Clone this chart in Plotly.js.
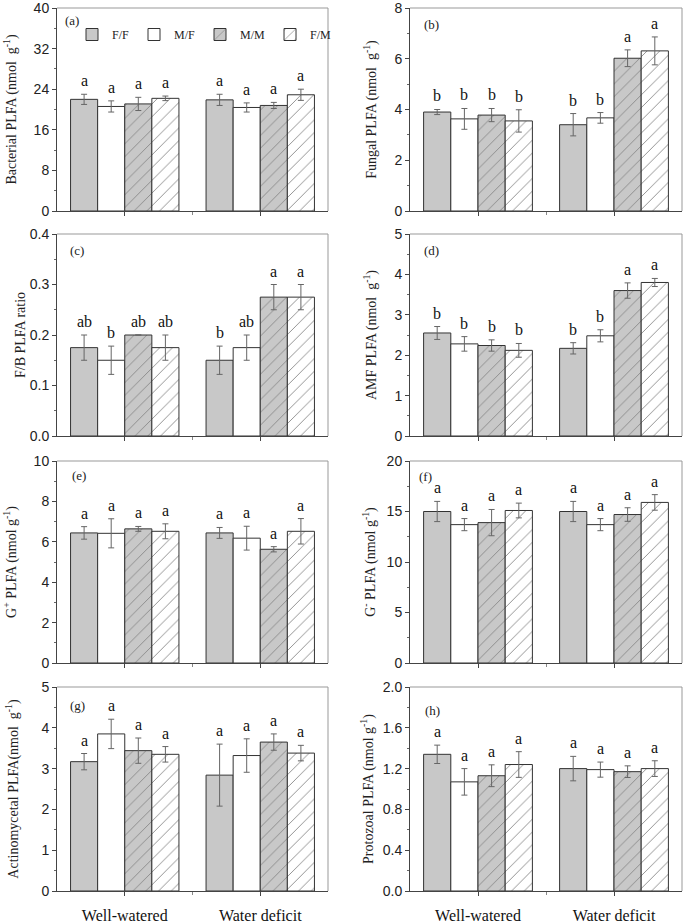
<!DOCTYPE html>
<html><head><meta charset="utf-8">
<script src="https://cdn.plot.ly/plotly-3.0.1.min.js"></script>
<style>html,body{margin:0;padding:0;background:#fff}#chart{width:685px;height:923px}</style>
</head><body><div id="chart"></div>
<script>
// ---------- data ----------
const groups = ['Well-watered', 'Water deficit'];
const treatments = ['F/F', 'M/F', 'M/M', 'F/M'];
// each inner array: [Well-watered, Water deficit] for treatments F/F, M/F, M/M, F/M
const bacterialMean = [[22.0, 21.9], [20.6, 20.4], [21.1, 20.8], [22.2, 22.9]];
const bacterialErr  = [[1.0, 1.1], [1.1, 0.9], [1.3, 0.6], [0.45, 1.1]];
const bacterialLet  = [['a', 'a'], ['a', 'a'], ['a', 'a'], ['a', 'a']];

const fungalMean = [[3.90, 3.40], [3.63, 3.67], [3.78, 6.02], [3.55, 6.31]];
const fungalErr  = [[0.10, 0.44], [0.41, 0.21], [0.26, 0.33], [0.44, 0.55]];
const fungalLet  = [['b', 'b'], ['b', 'b'], ['b', 'a'], ['b', 'a']];

const fbMean = [[0.175, 0.150], [0.150, 0.175], [0.200, 0.275], [0.175, 0.275]];
const fbErr  = [[0.025, 0.028], [0.028, 0.025], [0.0, 0.025], [0.025, 0.025]];
const fbLet  = [['ab', 'b'], ['b', 'ab'], ['ab', 'a'], ['ab', 'a']];

const amfMean = [[2.55, 2.17], [2.28, 2.48], [2.24, 3.60], [2.12, 3.80]];
const amfErr  = [[0.16, 0.14], [0.18, 0.15], [0.14, 0.19], [0.17, 0.10]];
const amfLet  = [['b', 'b'], ['b', 'b'], ['b', 'a'], ['b', 'a']];

const gposMean = [[6.44, 6.44], [6.42, 6.18], [6.64, 5.63], [6.52, 6.52]];
const gposErr  = [[0.31, 0.27], [0.72, 0.59], [0.12, 0.13], [0.37, 0.63]];
const gposLet  = [['a', 'a'], ['a', 'a'], ['a', 'a'], ['a', 'a']];

const gnegMean = [[15.0, 15.0], [13.7, 13.7], [13.9, 14.7], [15.1, 15.9]];
const gnegErr  = [[1.0, 1.0], [0.6, 0.6], [1.3, 0.67], [0.73, 0.77]];
const gnegLet  = [['a', 'a'], ['a', 'a'], ['a', 'a'], ['a', 'a']];

const actinoMean = [[3.17, 2.84], [3.85, 3.32], [3.44, 3.65], [3.35, 3.38]];
const actinoErr  = [[0.20, 0.76], [0.36, 0.41], [0.31, 0.20], [0.19, 0.19]];
const actinoLet  = [['a', 'a'], ['a', 'a'], ['a', 'a'], ['a', 'a']];

const protoMean = [[1.34, 1.20], [1.07, 1.19], [1.13, 1.17], [1.24, 1.20]];
const protoErr  = [[0.09, 0.12], [0.13, 0.074], [0.107, 0.057], [0.126, 0.077]];
const protoLet  = [['a', 'a'], ['a', 'a'], ['a', 'a'], ['a', 'a']];

const panelLabels = ['(a)', '(b)', '(c)', '(d)', '(e)', '(f)', '(g)', '(h)'];
const yTitles = [
  'Bacterial PLFA (nmol  g<sup>-1</sup>)',
  'Fungal PLFA (nmol  g<sup>-1</sup>)',
  'F/B PLFA ratio',
  'AMF PLFA (nmol  g<sup>-1</sup>)',
  'G<sup>+</sup> PLFA (nmol g<sup>-1</sup>)',
  'G<sup>-</sup> PLFA (nmol g<sup>-1</sup>)',
  'Actinomycetal PLFA(nmol  g<sup>-1</sup>)',
  'Protozoal PLFA (nmol g<sup>-1</sup>)'
];
const yMax = [40, 8, 0.4, 5, 10, 20, 5, 2.0];
const yStep = [8, 2, 0.1, 1, 2, 5, 1, 0.4];

// ---------- styling / layout ----------
const means = [bacterialMean, fungalMean, fbMean, amfMean, gposMean, gnegMean, actinoMean, protoMean];
const errs = [bacterialErr, fungalErr, fbErr, amfErr, gposErr, gnegErr, actinoErr, protoErr];
const lets = [bacterialLet, fungalLet, fbLet, amfLet, gposLet, gnegLet, actinoLet, protoLet];
const tickFmt = ['', '', '.1f', '', '', '', '', '.1f'];
const standoff = [13, 14, 0, 14, 13, 7, 19, 5];
const titleSize = [14, 14, 14, 14, 14, 14, 14, 14];

const fillColors = ['#c8c8c8', '#ffffff', '#c8c8c8', '#ffffff'];
const patShapes = ['', '', '/', '/'];

const W = 685, H = 923;
const colPx = [[57, 328], [410, 682]];
const rowPx = [[8, 211], [234, 436], [461, 663], [687, 891]];
const labelPos = [[6, 13], [12, 17], [11, 16], [12, 16], [13, 14], [7, 15], [11, 18], [13, 23]];

const serif = 'Liberation Serif, Times New Roman, serif';
const sans = 'Liberation Sans, Arial, sans-serif';
const bargap = 0.2;
const barW = (1 - bargap) / treatments.length;

const traces = [];
const layout = {
  width: W, height: H,
  margin: {l: 0, r: 0, t: 0, b: 0},
  paper_bgcolor: '#fff', plot_bgcolor: '#fff',
  barmode: 'group', bargap: bargap, bargroupgap: 0,
  showlegend: true,
  legend: {
    orientation: 'h', x: 72 / W, y: 1 - 20 / H, xanchor: 'left', yanchor: 'top',
    font: {family: serif, size: 12, color: '#222'},
    bgcolor: 'rgba(0,0,0,0)', itemwidth: 30,
    tracegroupgap: 0
  },
  annotations: [], shapes: []
};

for (let p = 0; p < 8; p++) {
  const n = p + 1;
  const xa = n === 1 ? 'xaxis' : 'xaxis' + n;
  const ya = n === 1 ? 'yaxis' : 'yaxis' + n;
  const xr = n === 1 ? 'x' : 'x' + n;
  const yr = n === 1 ? 'y' : 'y' + n;
  const col = p % 2, row = Math.floor(p / 2);
  const xd = [colPx[col][0] / W, colPx[col][1] / W];
  const yd = [1 - rowPx[row][1] / H, 1 - rowPx[row][0] / H];
  const bottom = row === 3;

  layout[xa] = {
    domain: xd, anchor: yr, range: [-0.5, 1.5], fixedrange: true,
    tickmode: 'array', tickvals: [0, 1], ticktext: groups,
    showticklabels: bottom, ticks: 'outside', ticklen: 4, tickcolor: '#444',
    minor: {tickmode: 'array', tickvals: [0.5], ticks: 'outside', ticklen: 3, tickcolor: '#888'},
    ticklabelstandoff: 6, ticklabeloverflow: 'allow',
    tickfont: {family: serif, size: 16, color: '#111'},
    showline: true, linecolor: '#444', linewidth: 1, showgrid: false, zeroline: false
  };
  layout[ya] = {
    domain: yd, anchor: xr, range: [0, yMax[p]], fixedrange: true,
    dtick: yStep[p], tick0: 0, tickformat: tickFmt[p],
    ticks: 'outside', ticklen: 4, tickcolor: '#444',
    minor: {dtick: yStep[p] / 2, ticks: 'outside', ticklen: 2, tickcolor: '#666'},
    tickfont: {family: sans, size: 14, color: '#222'},
    ticklabeloverflow: 'allow',
    showline: true, linecolor: '#444', linewidth: 1, showgrid: false, zeroline: false,
    automargin: false,
    title: {text: yTitles[p], font: {family: serif, size: titleSize[p], color: '#222'}, standoff: standoff[p]}
  };

  // top and right frame
  layout.shapes.push({type: 'line', xref: xr + ' domain', yref: yr + ' domain', x0: 0, x1: 1, y0: 1, y1: 1, line: {color: '#999', width: 1}, layer: 'above'});
  layout.shapes.push({type: 'line', xref: xr + ' domain', yref: yr + ' domain', x0: 1, x1: 1, y0: 0, y1: 1, line: {color: '#999', width: 1}, layer: 'above'});

  // panel label
  layout.annotations.push({
    xref: xr + ' domain', yref: yr + ' domain', x: 0, y: 1, xanchor: 'left', yanchor: 'middle',
    xshift: labelPos[p][0], yshift: -labelPos[p][1], text: panelLabels[p], showarrow: false,
    font: {family: serif, size: 13, color: '#222'}
  });

  for (let t = 0; t < treatments.length; t++) {
    traces.push({
      type: 'bar', name: treatments[t], legendgroup: treatments[t], showlegend: p === 0,
      x: [0, 1], y: means[p][t], xaxis: xr, yaxis: yr,
      marker: {
        color: fillColors[t], line: {color: '#333', width: 1},
        pattern: {shape: patShapes[t], fgcolor: '#888', bgcolor: fillColors[t], size: 9, solidity: 0.1, fillmode: 'replace'}
      },
      error_y: {type: 'data', array: errs[p][t], visible: true, color: '#666', thickness: 1, width: 3},
      hoverinfo: 'skip'
    });
    for (let g = 0; g < groups.length; g++) {
      layout.annotations.push({
        xref: xr, yref: yr, x: g + (t - (treatments.length - 1) / 2) * barW,
        y: means[p][t][g] + errs[p][t][g], yanchor: 'bottom', yshift: 3,
        text: lets[p][t][g], showarrow: false,
        font: {family: serif, size: 16, color: '#111'}
      });
    }
  }
}

Plotly.newPlot('chart', traces, layout, {staticPlot: true, displayModeBar: false});
</script>
</body></html>
